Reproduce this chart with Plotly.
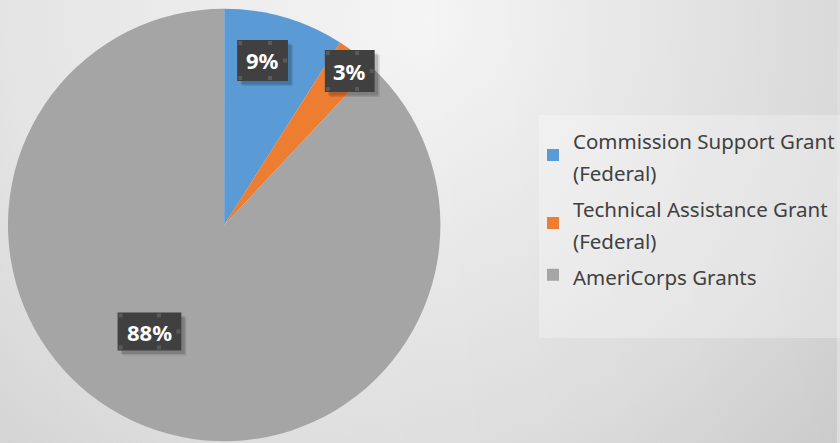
"""Funding sources pie chart, drawn with plotly."""
import base64

import plotly.graph_objects as go

W, H = 840, 443

# data
categories = ["Commission Support Grant<br>(Federal)", "Technical Assistance Grant<br>(Federal)", "AmeriCorps Grants"]
shares = [9, 3, 88]
colors = ["#5B9BD5", "#ED7D31", "#A5A5A5"]

# label box centres in pixels (x from left, y from top) and box sizes
label_pos = [(263.5, 60.5), (351, 71), (150, 331.5)]
label_size = [(51, 41), (50, 42), (64, 38)]


def px(x, y):
    return x / W, 1 - y / H


# gradient background as an inline svg
svg = f"""<svg xmlns="http://www.w3.org/2000/svg" width="{W}" height="{H}">
<defs>
<radialGradient id="g" gradientUnits="userSpaceOnUse" cx="430" cy="20" r="650">
<stop offset="0" stop-color="#fbfbfb"/><stop offset="0.65" stop-color="#e4e4e4"/><stop offset="1" stop-color="#d0d0d0"/>
</radialGradient>
<linearGradient id="s" x1="0" y1="0" x2="1" y2="0">
<stop offset="0" stop-color="#000" stop-opacity="0"/><stop offset="1" stop-color="#000" stop-opacity="0.05"/>
</linearGradient>
</defs>
<rect width="{W}" height="{H}" fill="url(#g)"/><rect width="{W}" height="{H}" fill="url(#s)"/></svg>"""
bg_src = "data:image/svg+xml;base64," + base64.b64encode(svg.encode()).decode()

fig = go.Figure()
fig.add_trace(
    go.Pie(
        labels=[f'<span style="font-size:20.5px">{c}</span>' for c in categories],
        values=shares,
        marker=dict(colors=colors, line=dict(width=0)),
        sort=False,
        direction="clockwise",
        rotation=0,
        textinfo="none",
        hoverinfo="percent",
        domain=dict(x=[8 / W, 442 / W], y=[1 / H, 435 / H]),
    )
)

shapes = [
    # legend panel
    dict(type="rect", xref="paper", yref="paper", x0=541 / W, x1=1.01, y0=1 - 338 / H, y1=1 - 115 / H,
         fillcolor="rgba(255,255,255,0.28)", line=dict(width=0), layer="below"),
]
annotations = []
total = sum(shares)
for val, (cx, cy), (bw, bh) in zip(shares, label_pos, label_size):
    # soft shadow
    for off, alpha in ((5, 0.10), (3.5, 0.15)):
        x0, y0 = px(cx - bw / 2 + off, cy + bh / 2 + off)
        x1, y1 = px(cx + bw / 2 + off, cy - bh / 2 + off)
        shapes.append(dict(type="rect", xref="paper", yref="paper", x0=x0, x1=x1, y0=y0, y1=y1,
                           fillcolor=f"rgba(0,0,0,{alpha})", line=dict(width=0), layer="above"))
    # box
    x0, y0 = px(cx - bw / 2, cy + bh / 2)
    x1, y1 = px(cx + bw / 2, cy - bh / 2)
    shapes.append(dict(type="rect", xref="paper", yref="paper", x0=x0, x1=x1, y0=y0, y1=y1,
                       fillcolor="#404040", line=dict(width=0), layer="above"))
    # texture dots
    for i in range(4):
        for j in range(3):
            if (i + j) % 2:
                continue
            dx = cx - bw / 2 + 1 + i * (bw - 6) / 3
            dy = cy - bh / 2 + 1 + j * (bh - 6) / 2
            a0, b0 = px(dx, dy + 4)
            a1, b1 = px(dx + 4, dy)
            shapes.append(dict(type="rect", xref="paper", yref="paper", x0=a0, x1=a1, y0=b0, y1=b1,
                               fillcolor="#5a5a5a", line=dict(width=0), layer="above"))
    ax, ay = px(cx, cy)
    annotations.append(dict(x=ax, y=ay, xref="paper", yref="paper", showarrow=False,
                            xanchor="center", yanchor="middle",
                            text=f"<b>{round(val / total * 100)}%</b>",
                            font=dict(family="Noto Sans", size=22, color="white")))

fig.update_layout(
    width=W,
    height=H,
    margin=dict(l=0, r=0, t=0, b=0),
    paper_bgcolor="#dedede",
    plot_bgcolor="rgba(0,0,0,0)",
    images=[dict(source=bg_src, xref="paper", yref="paper", x=0, y=1, sizex=1, sizey=1,
                 sizing="stretch", xanchor="left", yanchor="top", layer="below")],
    shapes=shapes,
    annotations=annotations,
    showlegend=True,
    legend=dict(
        x=535 / W,
        y=1 - 116 / H,
        xanchor="left",
        yanchor="top",
        bgcolor="rgba(0,0,0,0)",
        font=dict(family="Noto Sans", size=25, color="#404040"),
        tracegroupgap=0,
    ),
)

fig.write_html("out.html", config={"displayModeBar": False},
               post_script="document.body.style.margin='0';")
